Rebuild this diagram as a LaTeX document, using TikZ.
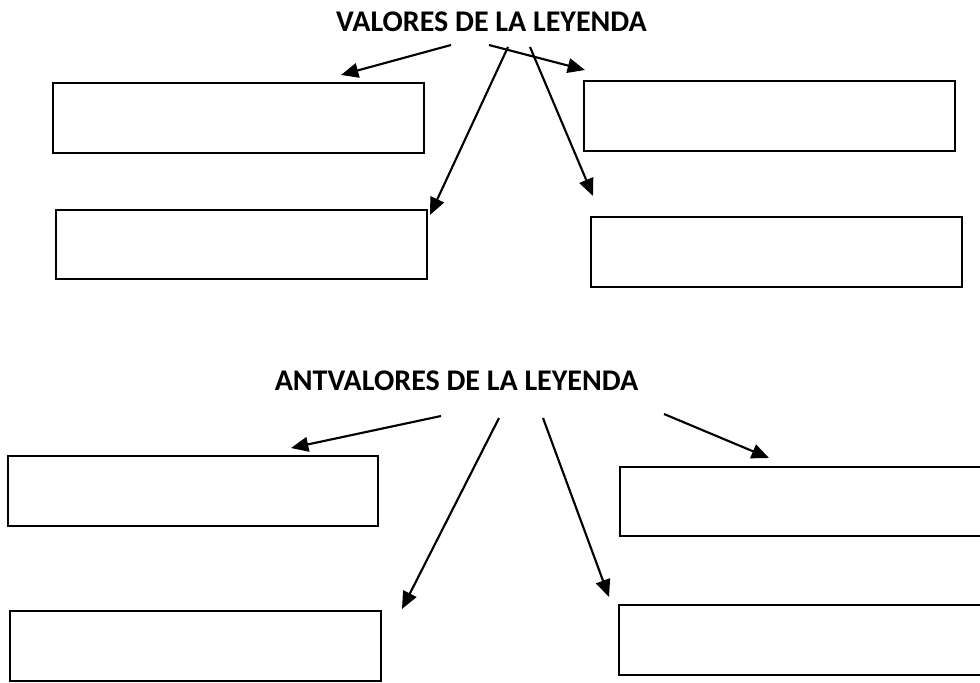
\documentclass[tikz,border=0pt]{standalone}
\usepackage{fontspec}
\setmainfont{Carlito}
\usetikzlibrary{arrows.meta}

\tikzset{
  caja/.style={draw, line width=1.7pt, inner sep=0pt, minimum width=278pt, minimum height=52pt},
  titulo/.style={font=\fontsize{22.5}{27}\selectfont\bfseries},
  flecha/.style={line width=1.6pt, -{Triangle[length=13pt,width=11pt]}}
}

\begin{document}
\begin{tikzpicture}[x=0.75pt, y=-0.75pt]

\useasboundingbox (0,0) rectangle (980,682);

\node[titulo] (T1) at (491.5,22) {VALORES DE LA LEYENDA};
\node[titulo] (T2) at (456.5,381) {ANTVALORES DE LA LEYENDA};

\node[caja] (A) at (238.5,118) {};
\node[caja] (B) at (769.5,116) {};
\node[caja] (C) at (241.5,244.5) {};
\node[caja] (D) at (776.5,252) {};

\node[caja] (E) at (193,491) {};
\node[caja] (F) at (805.5,501.5) {};
\node[caja] (G) at (195.5,646) {};
\node[caja] (H) at (804.5,640) {};

% arriba
\coordinate (a1) at (451,45);
\coordinate (a2) at (489,45);
\coordinate (a3) at (508,47);
\coordinate (a4) at (530,47);
\coordinate (p1) at (341,75);
\coordinate (p2) at (585,70);
\coordinate (p3) at (430,215);
\coordinate (p4) at (593,196);

\draw[flecha] (a1) -- (p1);
\draw[flecha] (a2) -- (p2);
\draw[flecha] (a3) -- (p3);
\draw[flecha] (a4) -- (p4);

% abajo
\coordinate (b1) at (441,416);
\coordinate (b2) at (499,418);
\coordinate (b3) at (543,418);
\coordinate (b4) at (664,414);
\coordinate (q1) at (291,448);
\coordinate (q2) at (402,609);
\coordinate (q3) at (609,597);
\coordinate (q4) at (769,458);

\draw[flecha] (b1) -- (q1);
\draw[flecha] (b2) -- (q2);
\draw[flecha] (b3) -- (q3);
\draw[flecha] (b4) -- (q4);

\end{tikzpicture}
\end{document}
